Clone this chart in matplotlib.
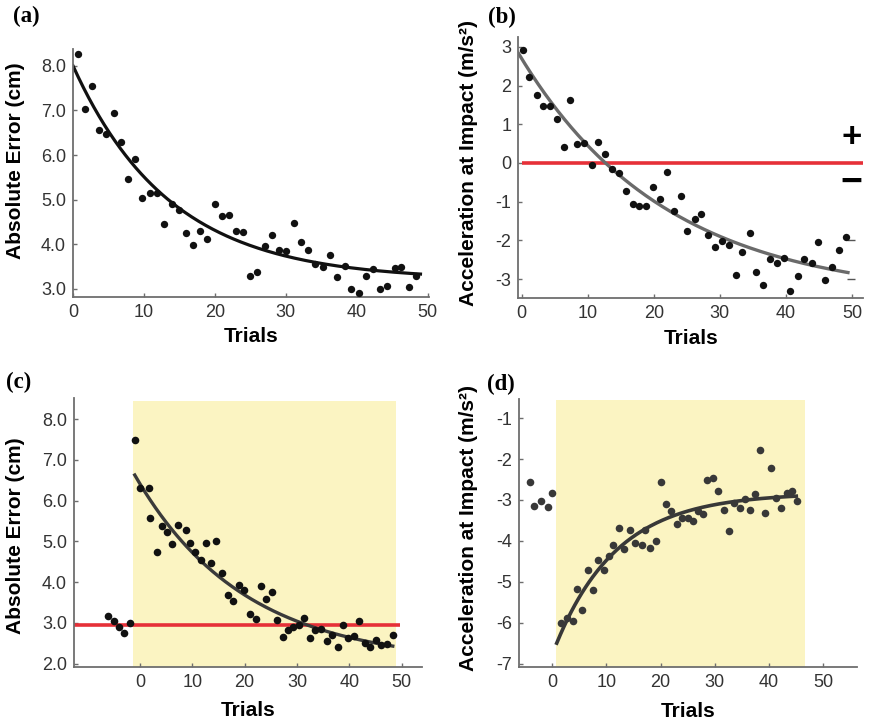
import numpy as np
import matplotlib
matplotlib.use("Agg")
import matplotlib.pyplot as plt

plt.rcParams['font.family'] = ['Liberation Sans', 'DejaVu Sans']
plt.rcParams['axes.unicode_minus'] = False

# ---- dados ----
# (a) erro absoluto, sem perturbacao
trials_a = [0.7, 1.7, 2.7, 3.7, 4.7, 5.8, 6.8, 7.8, 8.8, 9.8, 10.8, 11.9, 12.9, 13.9, 14.9, 15.9,
            16.9, 17.9, 18.9, 20.0, 21.0, 22.0, 23.0, 24.0, 25.0, 26.0, 27.1, 28.1, 29.1, 30.1,
            31.1, 32.2, 33.1, 34.1, 35.2, 36.2, 37.2, 38.3, 39.2, 40.3, 41.3, 42.3, 43.3, 44.3,
            45.4, 46.3, 47.4, 48.4]
error_a = [8.26, 7.04, 7.55, 6.55, 6.48, 6.95, 6.29, 5.46, 5.91, 5.04, 5.14, 5.16, 4.45, 4.91,
           4.78, 4.25, 3.99, 4.30, 4.13, 4.90, 4.63, 4.66, 4.30, 4.27, 3.29, 3.37, 3.96, 4.22,
           3.87, 3.85, 4.47, 4.05, 3.87, 3.55, 3.50, 3.77, 3.26, 3.52, 3.00, 2.91, 3.30, 3.44,
           2.99, 3.07, 3.46, 3.50, 3.04, 3.29]

# (b) aceleracao no impacto
trials_b = [0.15, 1.2, 2.3, 3.3, 4.3, 5.3, 6.4, 7.4, 8.4, 9.5, 10.6, 11.6, 12.7, 13.7, 14.8, 15.8,
            16.8, 17.8, 18.9, 19.9, 21.0, 22.0, 23.1, 24.1, 25.1, 26.2, 27.2, 28.2, 29.3, 30.4,
            31.4, 32.4, 33.4, 34.5, 35.5, 36.6, 37.6, 38.6, 39.7, 40.7, 41.8, 42.8, 43.9, 44.9,
            46.0, 47.0, 48.0, 49.1]
accel_b = [2.92, 2.22, 1.75, 1.46, 1.48, 1.13, 0.41, 1.62, 0.50, 0.52, -0.05, 0.55, 0.24, -0.15,
           -0.26, -0.73, -1.05, -1.12, -1.10, -0.62, -0.93, -0.23, -1.24, -0.86, -1.75, -1.45,
           -1.32, -1.87, -2.17, -2.01, -2.12, -2.89, -2.30, -1.80, -2.82, -3.15, -2.48, -2.58,
           -2.46, -3.30, -2.91, -2.47, -2.58, -2.04, -3.01, -2.68, -2.24, -1.91]

# (c) erro absoluto com perturbacao
pre_trials_c = [-6.2, -4.9, -4.1, -3.1, -2.0]
pre_error_c = [3.18, 3.06, 2.91, 2.75, 3.01]
trials_c = [-0.96, 0.0, 1.8, 2.0, 3.2, 4.2, 5.2, 6.2, 7.3, 8.7, 9.6, 10.6, 11.6, 12.6, 13.6, 14.6,
            15.7, 16.8, 17.8, 18.9, 19.9, 21.0, 22.1, 23.1, 24.1, 25.2, 26.2, 27.3, 28.3, 29.3,
            30.4, 31.4, 32.5, 33.5, 34.6, 35.7, 36.7, 37.8, 38.8, 39.8, 40.9, 41.9, 43.0, 44.0,
            45.1, 46.1, 47.2, 48.3]
error_c = [7.48, 6.30, 6.32, 5.58, 4.75, 5.39, 5.24, 4.94, 5.41, 5.28, 4.96, 4.74, 4.55, 4.95,
           4.48, 5.02, 4.22, 3.69, 3.54, 3.93, 3.81, 3.23, 3.10, 3.91, 3.58, 3.77, 3.08, 2.65,
           2.83, 2.91, 2.95, 3.11, 2.64, 2.83, 2.85, 2.56, 2.70, 2.40, 2.95, 2.64, 2.67, 3.06,
           2.50, 2.41, 2.59, 2.46, 2.48, 2.71]
baseline_c = 2.96

# (d) aceleracao com perturbacao
pre_trials_d = [-4.0, -3.25, -2.1, -0.7, -0.1]
pre_accel_d = [-2.55, -3.14, -3.03, -3.17, -2.82]
trials_d = [1.7, 2.8, 3.9, 4.6, 5.6, 6.6, 7.6, 8.5, 9.5, 10.4, 11.3, 12.3, 13.3, 14.3, 15.3, 16.5,
            17.2, 18.0, 19.1, 20.1, 21.0, 22.0, 23.0, 24.0, 25.0, 26.0, 26.8, 27.9, 28.5, 29.7,
            30.6, 31.7, 32.6, 33.6, 34.6, 35.5, 36.4, 37.4, 38.3, 39.3, 40.3, 41.3, 42.1, 43.2,
            44.2, 45.2]
accel_d = [-6.01, -5.89, -5.97, -5.18, -5.68, -4.72, -5.21, -4.46, -4.71, -4.38, -4.09, -3.69,
           -4.19, -3.73, -4.05, -4.11, -3.74, -4.18, -4.01, -2.55, -3.09, -3.26, -3.59, -3.43,
           -3.43, -3.52, -3.26, -3.34, -2.51, -2.47, -2.78, -3.24, -3.75, -3.08, -3.20, -2.98,
           -3.24, -2.85, -1.77, -3.32, -2.21, -2.94, -3.20, -2.83, -2.77, -3.02]

# ajustes exponenciais: y = a + b*exp(-(t - t0)/tau)
fit_a = dict(a=3.2, b=4.8, tau=13.7, t0=0.0, t1=49.0)
fit_b = dict(a=-3.5, b=6.2, tau=22.2, t0=0.0, t1=49.4, tstart=-0.5)
fit_c = dict(a=2.0, b=4.63, tau=20.8, t0=-1.0, t1=48.3)
fit_d = dict(a=-2.83, b=-3.67, tau=11.4, t0=0.86, t1=45.0)

RED = '#e63038'
YELLOW = '#fbf4c2'
SPINE = '#6e6e6e'
TICKC = '#333333'


def curva(p):
    ts = p.get('tstart', p['t0'])
    t = np.linspace(ts, p['t1'], 200)
    return t, p['a'] + p['b'] * np.exp(-(t - p['t0']) / p['tau'])


def estilo(ax, ylabel, ylab_x, ylab_y, xlab_y):
    for s in ['top', 'right']:
        ax.spines[s].set_visible(False)
    for s in ['left', 'bottom']:
        ax.spines[s].set_color(SPINE)
        ax.spines[s].set_linewidth(1.3)
    ax.tick_params(direction='in', length=3, width=1, color=SPINE,
                   labelsize=13, labelcolor=TICKC, pad=5)
    ax.set_xlabel('Trials', fontsize=15, fontweight='bold')
    ax.set_ylabel(ylabel, fontsize=15, fontweight='bold')
    ax.yaxis.set_label_coords(ylab_x, ylab_y)
    ax.xaxis.set_label_coords(0.5, xlab_y)


fig = plt.figure(figsize=(8.71, 7.28), dpi=100)

# (a)
ax1 = fig.add_axes([0.0838, 0.592, 0.4087, 0.341])
ax1.scatter(trials_a, error_a, s=28, color='#111111', zorder=3, linewidths=0)
t, y = curva(fit_a)
ax1.plot(t, y, color='#111111', lw=2.3, zorder=2)
ax1.set_xlim(0, 50.2)
ax1.set_ylim(2.82, 8.38)
ax1.set_xticks([0, 10, 20, 30, 40, 50])
ax1.set_yticks([3, 4, 5, 6, 7, 8])
ax1.set_yticklabels(['%.1f' % v for v in [3, 4, 5, 6, 7, 8]])
estilo(ax1, 'Absolute Error (cm)', -0.135, 0.55, -0.12)

# (b)
ax2 = fig.add_axes([0.595, 0.590, 0.396, 0.359])
ax2.hlines(0, 0, 51.7, color=RED, lw=2.6, zorder=2)
ax2.scatter(trials_b, accel_b, s=28, color='#111111', zorder=3, linewidths=0)
t, y = curva(fit_b)
ax2.plot(t, y, color='#6a6a6a', lw=2.4, zorder=2.5)
ax2.hlines([-2, -3], 49.3, 50.5, color='#555555', lw=1)
ax2.text(49.9, 0.66, '+', fontsize=25, fontweight='bold', ha='center', va='center')
ax2.text(49.9, -0.52, '\u2212', fontsize=27, fontweight='bold', ha='center', va='center')
ax2.set_xlim(-0.5, 51.7)
ax2.set_ylim(-3.5, 3.25)
ax2.set_xticks([0, 10, 20, 30, 40, 50])
ax2.set_yticks([-3, -2, -1, 0, 1, 2, 3])
estilo(ax2, 'Acceleration at Impact (m/s\u00b2)', -0.116, 0.52, -0.115)

# (c)
ax3 = fig.add_axes([0.085, 0.0838, 0.399, 0.3695])
ax3.axvspan(-1.27, 49.0, ymin=0, ymax=0.989, color=YELLOW, lw=0, zorder=0)
ax3.hlines(baseline_c, -12.6, 49.7, color=RED, lw=2.6, zorder=2)
ax3.scatter(pre_trials_c, pre_error_c, s=30, color='#111111', zorder=3, linewidths=0)
ax3.scatter(trials_c, error_c, s=30, color='#111111', zorder=3, linewidths=0)
t, y = curva(fit_c)
ax3.plot(t, y, color='#3a3a3a', lw=2.4, zorder=2.5)
ax3.set_xlim(-12.6, 53.8)
ax3.set_ylim(1.92, 8.52)
ax3.set_xticks([0, 10, 20, 30, 40, 50])
ax3.set_yticks([2, 3, 4, 5, 6, 7, 8])
ax3.set_yticklabels(['%.1f' % v for v in [2, 3, 4, 5, 6, 7, 8]])
estilo(ax3, 'Absolute Error (cm)', -0.141, 0.487, -0.125)

# (d)
ax4 = fig.add_axes([0.596, 0.084, 0.388, 0.368])
ax4.axvspan(0.74, 46.6, ymin=0, ymax=0.997, color=YELLOW, lw=0, zorder=0)
ax4.scatter(pre_trials_d, pre_accel_d, s=30, color='#383838', zorder=3, linewidths=0)
ax4.scatter(trials_d, accel_d, s=30, color='#383838', zorder=3, linewidths=0)
t, y = curva(fit_d)
ax4.plot(t, y, color='#383838', lw=2.6, zorder=2.5)
ax4.set_xlim(-6.07, 56.2)
ax4.set_ylim(-7.08, -0.53)
ax4.set_xticks([0, 10, 20, 30, 40, 50])
ax4.set_yticks([-7, -6, -5, -4, -3, -2, -1])
estilo(ax4, 'Acceleration at Impact (m/s\u00b2)', -0.121, 0.519, -0.13)

# letras dos paineis
for x, yy, lab in [(0.015, 0.992, '(a)'), (0.560, 0.991, '(b)'),
                   (0.007, 0.489, '(c)'), (0.559, 0.487, '(d)')]:
    fig.text(x, yy, lab, fontsize=16.5, fontweight='bold', family='Liberation Serif',
             ha='left', va='top')

fig.savefig('out.png', dpi=100)
